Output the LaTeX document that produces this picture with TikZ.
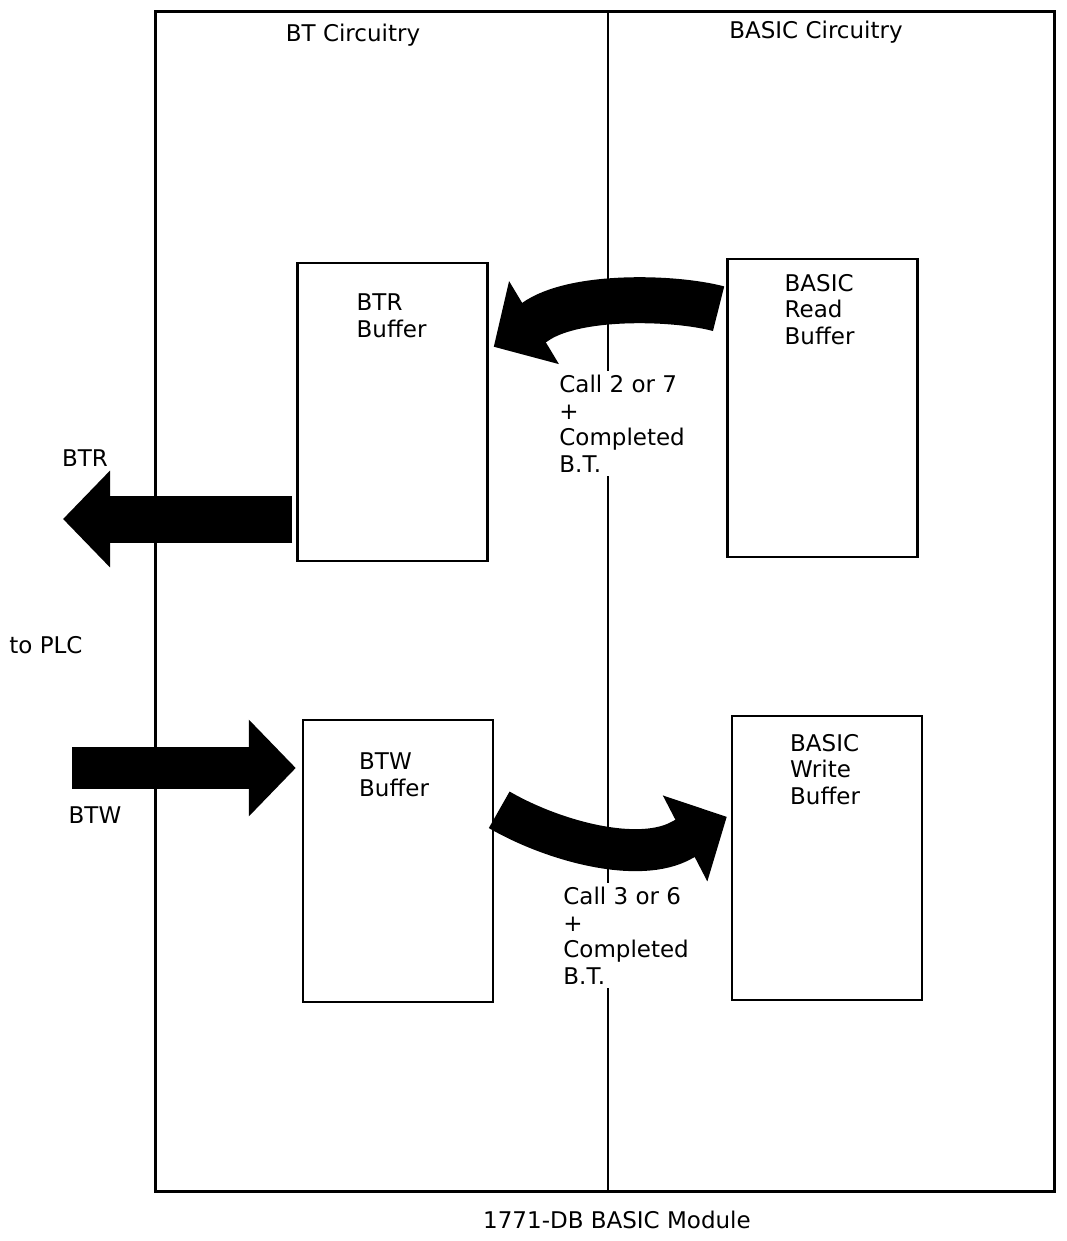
\documentclass[tikz,border=0pt]{standalone}
\usepackage{fontspec}
\setmainfont{DejaVu Sans}
\usetikzlibrary{arrows.meta,positioning}

\begin{document}
\begin{tikzpicture}[
  x=0.5pt, y=-0.5pt,
  every node/.style={font=\fontsize{11.5}{13.25}\selectfont},
  frame/.style={draw, line width=1.5pt, minimum width=449.5pt,
                minimum height=589.5pt, inner sep=0pt},
  buffer/.style={draw, line width=1.2pt, minimum width=95pt,
                 minimum height=149pt, inner sep=0pt},
  buftext/.style={align=left, inner sep=0pt},
  calltext/.style={align=left, inner sep=2pt, fill=white, anchor=north west},
  fat/.style={line width=#1, -{Triangle[length=23.5pt, width=47pt]}}
]
\useasboundingbox (0,0) rectangle (1066,1241);

% Module
\node[frame] (module) at (604.5,601.5) {};
\draw[line width=1pt] ([xshift=1.5pt]module.north) -- ([xshift=1.5pt]module.south);
\node (btside) at (353,35) {BT Circuitry};
\node (basicside) at (816,32) {BASIC Circuitry};
\node (modname) at (617,1220) {1771-DB BASIC Module};

% Buffers
\node[buffer] (btr) at (392.5,412) {};
\node[buffer] (bread) at (822.5,408) {};
\node[buffer, minimum height=141pt] (btw) at (398,861) {};
\node[buffer, minimum height=142pt] (bwrite) at (827,858) {};
\node[buftext, below right=16pt and 30pt of btr.north west] (btrtxt) {BTR\\Buffer};
\node[buftext, below right=8pt and 29pt of bread.north west] (breadtxt) {BASIC\\Read\\Buffer};
\node[buftext, below right=17pt and 28.5pt of btw.north west] (btwtxt) {BTW\\Buffer};
\node[buftext, below right=9.5pt and 29.5pt of bwrite.north west] (bwritetxt) {BASIC\\Write\\Buffer};

% PLC side
\coordinate (plcout) at (63,519);
\coordinate (plcin) at (72,768);
\draw[fat=23.5pt, shorten <=2pt] (plcout -| btr.west) -- (plcout);
\draw[fat=21pt, shorten >=3pt] (plcin) -- (plcin -| btw.west);
\node (btrlbl) at (85,458) {BTR};
\node (plclbl) at (46,645) {to PLC};
\node (btwlbl) at (95,815) {BTW};

% Calls
\draw[fat=23pt, shorten <=4pt] ([yshift=-26.5pt]bread.north west)
  .. controls (675,297) and (574,294) .. (535,322)
  -- ([xshift=2.5pt,yshift=-42.5pt]btr.north east);
\draw[fat=21pt] ([xshift=2.5pt,yshift=-45.5pt]btw.north east)
  .. controls (555,842) and (640,864) .. (682,840)
  -- ([xshift=-2pt,yshift=-51pt]bwrite.north west);
\node[calltext] (readcall) at (555,371) {Call 2 or 7\\+\\Completed\\B.T.};
\node[calltext] (writecall) at (559,883) {Call 3 or 6\\+\\Completed\\B.T.};

\end{tikzpicture}
\end{document}
